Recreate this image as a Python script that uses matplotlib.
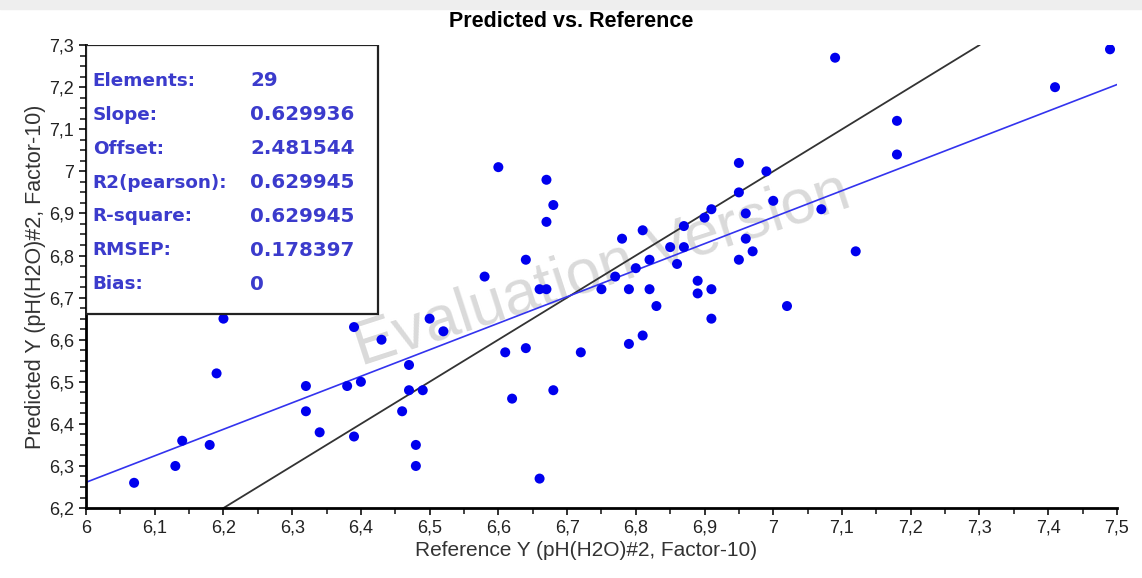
import matplotlib
matplotlib.use("Agg")
import matplotlib.pyplot as plt
from matplotlib.ticker import MultipleLocator, FuncFormatter
from matplotlib.patches import Rectangle

# Reference (x) and predicted (y) values.
ref = [6.07, 6.13, 6.14, 6.18, 6.19, 6.20, 6.32, 6.32, 6.34, 6.38,
       6.39, 6.39, 6.40, 6.43, 6.46, 6.47, 6.47, 6.48, 6.48, 6.49,
       6.50, 6.52, 6.58, 6.60, 6.61, 6.62, 6.64, 6.64, 6.66, 6.66,
       6.67, 6.67, 6.67, 6.68, 6.68, 6.72, 6.75, 6.77, 6.78, 6.79,
       6.79, 6.80, 6.81, 6.81, 6.82, 6.82, 6.83, 6.85, 6.86, 6.87,
       6.87, 6.89, 6.89, 6.90, 6.91, 6.91, 6.91, 6.95, 6.95, 6.95,
       6.96, 6.96, 6.97, 6.99, 7.00, 7.02, 7.07, 7.09, 7.12, 7.18,
       7.18, 7.41, 7.49]
pred = [6.26, 6.30, 6.36, 6.35, 6.52, 6.65, 6.49, 6.43, 6.38, 6.49,
        6.63, 6.37, 6.50, 6.60, 6.43, 6.54, 6.48, 6.35, 6.30, 6.48,
        6.65, 6.62, 6.75, 7.01, 6.57, 6.46, 6.79, 6.58, 6.72, 6.27,
        6.98, 6.88, 6.72, 6.92, 6.48, 6.57, 6.72, 6.75, 6.84, 6.72,
        6.59, 6.77, 6.86, 6.61, 6.79, 6.72, 6.68, 6.82, 6.78, 6.87,
        6.82, 6.74, 6.71, 6.89, 6.91, 6.72, 6.65, 7.02, 6.95, 6.79,
        6.90, 6.84, 6.81, 7.00, 6.93, 6.68, 6.91, 7.27, 6.81, 7.12,
        7.04, 7.20, 7.29]

slope = 0.629936
offset = 2.481544
stats_names = ["Elements:", "Slope:", "Offset:", "R2(pearson):", "R-square:", "RMSEP:", "Bias:"]
stats_values = ["29", "0.629936", "2.481544", "0.629945", "0.629945", "0.178397", "0"]

arial = ['Liberation Sans', 'DejaVu Sans']

fig = plt.figure(figsize=(11.42, 5.78), dpi=100)
ax = fig.add_axes([0.0753, 0.121, 0.9027, 0.801])

# light band at the very top of the screenshot
fig.patches.append(Rectangle((0, 0.985), 1, 0.015, transform=fig.transFigure,
                             color='#eeeeee', zorder=0))

ax.set_xlim(6, 7.5)
ax.set_ylim(6.2, 7.3)

# watermark
ax.text(6.75, 6.765, "Evaluation Version", fontsize=45, color='#dadada',
        family=arial, rotation=18, ha='center', va='center', zorder=0)

# target line and regression line
ax.plot([6.2, 7.3], [6.2, 7.3], color='#333333', lw=1.3, zorder=2)
ax.plot([6, 7.5], [slope * 6 + offset, slope * 7.5 + offset], color='#3333ee', lw=1.2, zorder=2)

ax.scatter(ref, pred, s=52, color='#0000ee', edgecolors='none', zorder=3)

# statistics box
box = Rectangle((6.0, 6.661), 0.425, 0.639, facecolor='white', edgecolor='#222222',
                lw=1.6, zorder=4)
ax.add_patch(box)
y0 = 7.215
for i, (name, val) in enumerate(zip(stats_names, stats_values)):
    yy = y0 - i * 0.0805
    ax.text(6.01, yy, name, fontsize=13.2, fontweight='bold', color='#3b3bcc',
            family=['DejaVu Sans'], va='center', zorder=5)
    ax.text(6.239, yy, val, fontsize=14.3, fontweight='bold', color='#3b3bcc',
            family=['DejaVu Sans'], va='center', zorder=5)

# axes styling
for side in ['top', 'right']:
    ax.spines[side].set_visible(False)
for side in ['left', 'bottom']:
    ax.spines[side].set_linewidth(2)
ax.xaxis.set_major_locator(MultipleLocator(0.1))
ax.xaxis.set_minor_locator(MultipleLocator(0.05))
ax.yaxis.set_major_locator(MultipleLocator(0.1))
ax.yaxis.set_minor_locator(MultipleLocator(0.025))
fmt = FuncFormatter(lambda v, p: f"{v:.1f}".rstrip('0').rstrip('.').replace('.', ','))
ax.xaxis.set_major_formatter(fmt)
ax.yaxis.set_major_formatter(fmt)
ax.tick_params(which='major', direction='out', length=5, width=1.3, labelsize=13,
               colors='#222222')
ax.tick_params(which='minor', direction='out', length=4, width=1.2, colors='#222222')
for lab in ax.get_xticklabels() + ax.get_yticklabels():
    lab.set_family(arial)

ax.set_xlabel("Reference Y (pH(H2O)#2, Factor-10)", fontsize=15, color='#333333',
              family=arial, labelpad=3)
ax.xaxis.label.set_x(0.485)
ax.set_ylabel("Predicted Y (pH(H2O)#2, Factor-10)", fontsize=15.5, color='#333333',
              family=arial, labelpad=2)
fig.text(0.5, 0.963, "Predicted vs. Reference", ha='center', va='center', fontsize=15.5,
         fontweight='bold', family=arial)

fig.savefig("out.png", dpi=100)
